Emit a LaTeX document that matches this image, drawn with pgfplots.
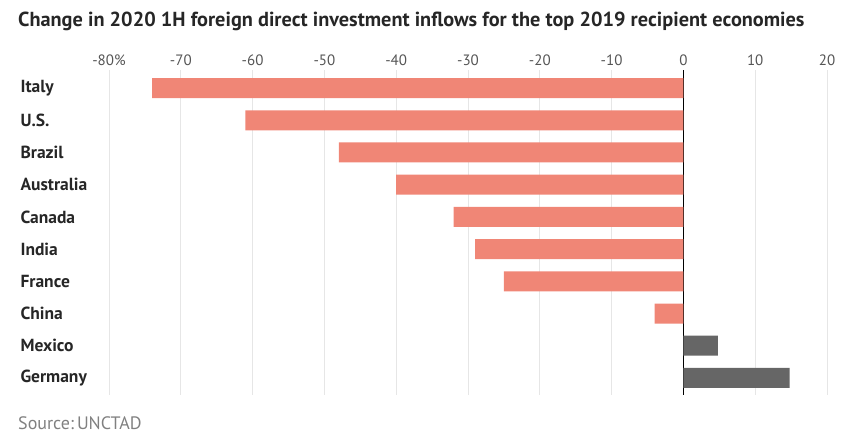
\documentclass[border=0pt]{standalone}
\usepackage{fontspec}
\setmainfont{PT Sans}
\usepackage{pgfplots}
\pgfplotsset{compat=1.18}
\definecolor{neg}{HTML}{F08676}
\definecolor{pos}{HTML}{666666}
\definecolor{gridc}{HTML}{E6E6E6}
\definecolor{tickc}{HTML}{555555}
\begin{document}
\begin{tikzpicture}
\path[use as bounding box] (0pt,0pt) rectangle (864pt,-439pt);
\node[anchor=west,font=\bfseries\fontsize{20.3}{22}\selectfont,text=black!85,inner sep=0pt] at (18pt,-21pt)
  {Change in 2020 1H foreign direct investment inflows for the top 2019 recipient economies};
\node[anchor=west,font=\fontsize{18}{20}\selectfont,text=black!50,inner sep=0pt] at (18pt,-423pt)
  {Source:\,UNCTAD};
\begin{axis}[
  at={(109pt,-395pt)}, anchor=south west,
  scale only axis, width=718pt, height=325pt,
  xbar, bar width=20pt, bar shift=0pt,
  xmin=-80, xmax=20,
  ymin=-0.56, ymax=9.53, y dir=reverse,
  axis line style={draw=none},
  major tick length=0pt,
  xtick={-80,-70,...,20},
  xticklabels={-80\%,-70,-60,-50,-40,-30,-20,-10,0,10,20},
  xticklabel pos=upper,
  xticklabel style={font=\fontsize{15}{17}\selectfont,text=tickc,yshift=1pt},
  xmajorgrids, grid style={gridc,line width=0.8pt},
  ytick={0,...,9},
  yticklabels={Italy,U.S.,Brazil,Australia,Canada,India,France,China,Mexico,Germany},
  yticklabel style={anchor=west,xshift=-92pt,font=\bfseries\fontsize{17.5}{19}\selectfont,text=black!85},
  extra x ticks={0}, extra x tick labels={},
  extra x tick style={grid style={black,line width=0.8pt}},
]
\addplot[fill=neg,draw=none] coordinates {(-74,0) (-61,1) (-48,2) (-40,3) (-32,4) (-29,5) (-25,6) (-4,7)};
\addplot[fill=pos,draw=none] coordinates {(4.8,8) (14.8,9)};
\end{axis}
\end{tikzpicture}
\end{document}
